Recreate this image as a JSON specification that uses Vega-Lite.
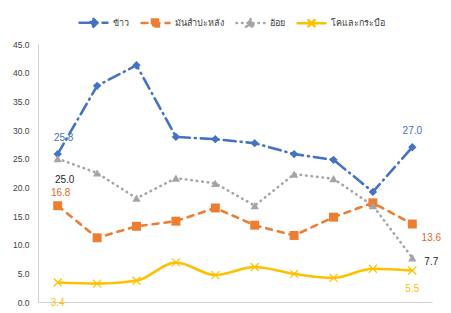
{
  "$schema": "https://vega.github.io/schema/vega-lite/v6.json",
  "width": 394,
  "height": 258,
  "autosize": {"type": "none"},
  "padding": {"left": 38, "top": 44, "right": 19, "bottom": 11},
  "background": "white",
  "config": {"view": {"stroke": null}, "font": "Liberation Sans"},
  "data": {"values": [
    {"t":1,"s":"ข้าว","v":25.8},{"t":2,"s":"ข้าว","v":37.7},{"t":3,"s":"ข้าว","v":41.3},{"t":4,"s":"ข้าว","v":28.8},{"t":5,"s":"ข้าว","v":28.4},{"t":6,"s":"ข้าว","v":27.7},{"t":7,"s":"ข้าว","v":25.8},{"t":8,"s":"ข้าว","v":24.8},{"t":9,"s":"ข้าว","v":19.2},{"t":10,"s":"ข้าว","v":27.0},
    {"t":1,"s":"มันสำปะหลัง","v":16.8},{"t":2,"s":"มันสำปะหลัง","v":11.2},{"t":3,"s":"มันสำปะหลัง","v":13.2},{"t":4,"s":"มันสำปะหลัง","v":14.1},{"t":5,"s":"มันสำปะหลัง","v":16.4},{"t":6,"s":"มันสำปะหลัง","v":13.4},{"t":7,"s":"มันสำปะหลัง","v":11.6},{"t":8,"s":"มันสำปะหลัง","v":14.8},{"t":9,"s":"มันสำปะหลัง","v":17.3},{"t":10,"s":"มันสำปะหลัง","v":13.6},
    {"t":1,"s":"อ้อย","v":25.0},{"t":2,"s":"อ้อย","v":22.5},{"t":3,"s":"อ้อย","v":18.1},{"t":4,"s":"อ้อย","v":21.6},{"t":5,"s":"อ้อย","v":20.7},{"t":6,"s":"อ้อย","v":16.8},{"t":7,"s":"อ้อย","v":22.3},{"t":8,"s":"อ้อย","v":21.5},{"t":9,"s":"อ้อย","v":16.8},{"t":10,"s":"อ้อย","v":7.7},
    {"t":1,"s":"โคและกระบือ","v":3.4},{"t":2,"s":"โคและกระบือ","v":3.2},{"t":3,"s":"โคและกระบือ","v":3.7},{"t":4,"s":"โคและกระบือ","v":6.9},{"t":5,"s":"โคและกระบือ","v":4.7},{"t":6,"s":"โคและกระบือ","v":6.1},{"t":7,"s":"โคและกระบือ","v":4.9},{"t":8,"s":"โคและกระบือ","v":4.2},{"t":9,"s":"โคและกระบือ","v":5.8},{"t":10,"s":"โคและกระบือ","v":5.5}
  ]},
  "encoding": {
    "x": {"field": "t", "type": "ordinal", "scale": {"type": "point", "padding": 0.5},
          "axis": {"labels": false, "ticks": false, "title": null, "domainColor": "#d0d0d0", "domainWidth": 1}},
    "y": {"field": "v", "type": "quantitative", "scale": {"domain": [0, 45], "nice": false},
          "axis": {"values": [0,5,10,15,20,25,30,35,40,45], "format": ".1f", "grid": false, "ticks": false,
                   "labelPadding": 9, "labelFontSize": 8.5, "labelColor": "#404040", "title": null,
                   "domainColor": "#d0d0d0", "domainWidth": 1}}
  },
  "layer": [
    {
      "transform": [{"filter": "datum.s !== 'โคและกระบือ'"}],
      "mark": {"type": "line", "strokeWidth": 2.6, "strokeCap": "round"},
      "encoding": {
        "color": {"field": "s", "type": "nominal",
                  "scale": {"domain": ["ข้าว","มันสำปะหลัง","อ้อย","โคและกระบือ"], "range": ["#4472C4","#ED7D31","#A5A5A5","#FFC000"]},
                  "legend": {
                    "title": null, "orient": "none", "direction": "horizontal", "legendX": 40, "legendY": -37,
                    "labelFontSize": 9, "labelColor": "#404040", "labelOffset": 4, "columnPadding": 7,
                    "symbolSize": 784, "symbolStrokeWidth": 2.5,
                    "encode": {"symbols": {"update": {
                      "shape": {"signal": "datum.value === 'ข้าว' ? 'M-1,0H1M0,-0.28L0.28,0L0,0.28L-0.28,0Z' : datum.value === 'มันสำปะหลัง' ? 'M-1,0H1M-0.25,-0.25H0.25V0.25H-0.25Z' : datum.value === 'อ้อย' ? 'M-1,0H1M0,-0.28L0.3,0.24H-0.3Z' : 'M-1,0H1M-0.22,-0.22L0.22,0.22M-0.22,0.22L0.22,-0.22'"},
                      "fill": {"scale": "color", "field": "value"},
                      "stroke": {"scale": "color", "field": "value"},
                      "strokeDash": {"signal": "datum.value === 'ข้าว' ? [12,5,1,5] : datum.value === 'มันสำปะหลัง' ? [6,6] : datum.value === 'อ้อย' ? [0.5,5] : [1,0]"},
                      "strokeCap": {"value": "round"},
                      "strokeWidth": {"value": 2.5}
                    }}}
                  }},
        "strokeDash": {"field": "s", "type": "nominal",
                       "scale": {"domain": ["ข้าว","มันสำปะหลัง","อ้อย"], "range": [[12,5,1,5],[6,6],[0.5,5]]},
                       "legend": null}
      }
    },
    {
      "transform": [{"filter": "datum.s === 'โคและกระบือ'"}],
      "mark": {"type": "line", "strokeWidth": 2.6, "interpolate": "monotone"},
      "encoding": {"color": {"field": "s", "type": "nominal", "legend": null}}
    },
    {
      "transform": [{"filter": "datum.s === 'ข้าว'"}],
      "mark": {"type": "point", "shape": "diamond", "filled": true, "opacity": 1, "size": 70},
      "encoding": {"color": {"field": "s", "type": "nominal", "legend": null}}
    },
    {
      "transform": [{"filter": "datum.s === 'มันสำปะหลัง'"}],
      "mark": {"type": "point", "shape": "square", "filled": true, "opacity": 1, "size": 80},
      "encoding": {"color": {"field": "s", "type": "nominal", "legend": null}}
    },
    {
      "transform": [{"filter": "datum.s === 'อ้อย'"}],
      "mark": {"type": "point", "shape": "triangle-up", "filled": true, "opacity": 1, "size": 70},
      "encoding": {"color": {"field": "s", "type": "nominal", "legend": null}}
    },
    {
      "transform": [{"filter": "datum.s === 'โคและกระบือ'"}],
      "mark": {"type": "point", "shape": "M-1,-1L1,1M-1,1L1,-1", "filled": false, "opacity": 1, "size": 64, "strokeWidth": 1.2},
      "encoding": {"color": {"field": "s", "type": "nominal", "legend": null}}
    },
    {
      "transform": [{"filter": "datum.s === 'ข้าว' && datum.t === 1"}],
      "mark": {"type": "text", "fontSize": 10, "color": "#4472C4", "dx": 6, "dy": -16},
      "encoding": {"text": {"field": "v", "format": ".1f"}}
    },
    {
      "transform": [{"filter": "datum.s === 'ข้าว' && datum.t === 10"}],
      "mark": {"type": "text", "fontSize": 10, "color": "#4472C4", "dx": 0, "dy": -16},
      "encoding": {"text": {"field": "v", "format": ".1f"}}
    },
    {
      "transform": [{"filter": "datum.s === 'อ้อย' && datum.t === 1"}],
      "mark": {"type": "text", "fontSize": 10, "color": "#262626", "dx": 7, "dy": 21},
      "encoding": {"text": {"field": "v", "format": ".1f"}}
    },
    {
      "transform": [{"filter": "datum.s === 'อ้อย' && datum.t === 10"}],
      "mark": {"type": "text", "fontSize": 10, "color": "#262626", "dx": 19, "dy": 4},
      "encoding": {"text": {"field": "v", "format": ".1f"}}
    },
    {
      "transform": [{"filter": "datum.s === 'มันสำปะหลัง' && datum.t === 1"}],
      "mark": {"type": "text", "fontSize": 10, "color": "#E0691E", "dx": 3, "dy": -13},
      "encoding": {"text": {"field": "v", "format": ".1f"}}
    },
    {
      "transform": [{"filter": "datum.s === 'มันสำปะหลัง' && datum.t === 10"}],
      "mark": {"type": "text", "fontSize": 10, "color": "#E0691E", "dx": 19, "dy": 14},
      "encoding": {"text": {"field": "v", "format": ".1f"}}
    },
    {
      "transform": [{"filter": "datum.s === 'โคและกระบือ' && datum.t === 1"}],
      "mark": {"type": "text", "fontSize": 10, "color": "#FFC000", "dx": 0, "dy": 20},
      "encoding": {"text": {"field": "v", "format": ".1f"}}
    },
    {
      "transform": [{"filter": "datum.s === 'โคและกระบือ' && datum.t === 10"}],
      "mark": {"type": "text", "fontSize": 10, "color": "#FFC000", "dx": 0, "dy": 19},
      "encoding": {"text": {"field": "v", "format": ".1f"}}
    }
  ]
}
